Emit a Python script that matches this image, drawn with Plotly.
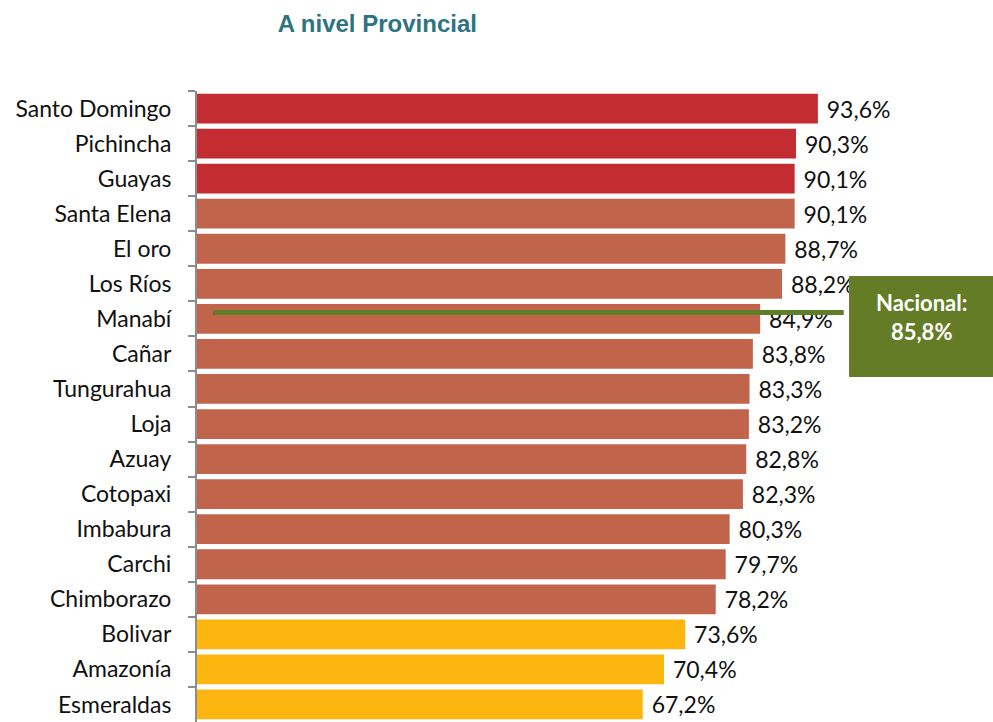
import plotly.graph_objects as go

provincias = ["Santo Domingo", "Pichincha", "Guayas", "Santa Elena", "El oro", "Los Ríos",
              "Manabí", "Cañar", "Tungurahua", "Loja", "Azuay", "Cotopaxi", "Imbabura",
              "Carchi", "Chimborazo", "Bolivar", "Amazonía", "Esmeraldas"]
valores = [93.6, 90.3, 90.1, 90.1, 88.7, 88.2, 84.9, 83.8, 83.3, 83.2, 82.8, 82.3, 80.3,
           79.7, 78.2, 73.6, 70.4, 67.2]
grupos = ["alto"] * 3 + ["medio"] * 12 + ["bajo"] * 3
nacional = 85.8

colores_grupo = {"alto": "#C32D31", "medio": "#C0654C", "bajo": "#FDB60F"}
font_main = "Lato, 'Noto Sans', sans-serif"

fig = go.Figure()
fig.add_trace(go.Bar(
    y=provincias, x=valores, orientation="h",
    marker=dict(color=[colores_grupo[g] for g in grupos], line=dict(width=0)),
    text=[" " + f"{v:.1f}".replace(".", ",") + "%" for v in valores],
    textposition="outside", cliponaxis=False,
    textfont=dict(size=23, color="#111111", family=font_main),
    width=0.85, hoverinfo="skip",
))

# línea nacional
fig.add_shape(type="line", xref="x", yref="y", x0=2.4, x1=97.5, y0=5.82, y1=5.82,
              line=dict(color="#5F7E28", width=5))
# caja nacional
fig.add_shape(type="rect", xref="x", yref="y", x0=98.3, x1=120, y0=4.78, y1=7.66,
              fillcolor="#647C25", line=dict(width=0))
fig.add_annotation(xref="x", yref="y", x=109.2, y=5.95,
                   text="<b>Nacional:</b><br><b>" + f"{nacional:.1f}".replace(".", ",") + "%</b>",
                   showarrow=False, font=dict(size=22, color="white", family=font_main),
                   align="center")

fig.update_layout(
    width=993, height=722,
    margin=dict(l=197, r=0, t=91, b=0, autoexpand=False),
    plot_bgcolor="white", paper_bgcolor="white",
    showlegend=False,
    title=dict(text="<b>A nivel Provincial</b>", x=0.38, xanchor="center", y=0.968, yanchor="middle",
               font=dict(family="Liberation Sans, Arial, sans-serif", size=24, color="#2E7381")),
    xaxis=dict(range=[0, 120], visible=False, showgrid=False, zeroline=False),
    yaxis=dict(categoryorder="array", categoryarray=provincias, range=[17.5, -0.5],
               showline=True, linecolor="#8C8C8C", linewidth=2,
               ticks="outside", tickson="boundaries", ticklen=7, tickcolor="#8C8C8C", tickwidth=2,
               ticklabelstandoff=19,
               tickfont=dict(size=23, color="#111111", family=font_main), showgrid=False),
)

fig.write_html("out.html", config={"displayModeBar": False},
               post_script="document.body.style.margin='0';document.body.style.overflow='hidden';")
